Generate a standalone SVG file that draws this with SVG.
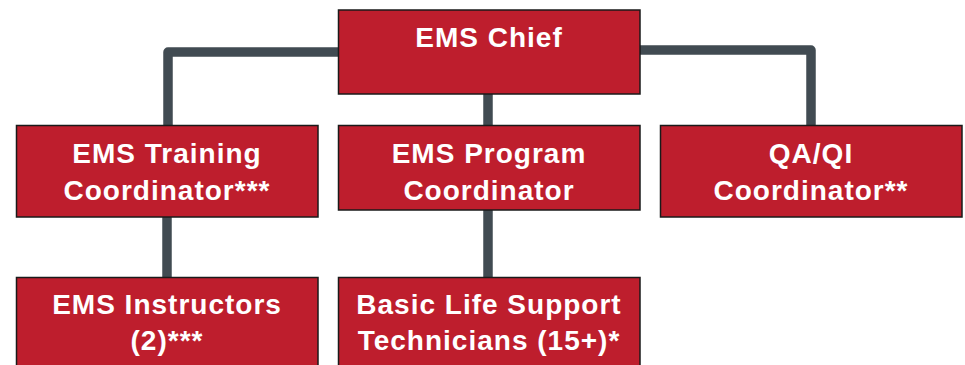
<svg xmlns="http://www.w3.org/2000/svg" width="965" height="365" viewBox="0 0 965 365">
<style>
.box{fill:#BE1E2D;stroke:#1a1a1a;stroke-width:1.5}
.lbl{font-family:"Liberation Sans",Arial,sans-serif;font-weight:bold;font-size:28px;fill:#ffffff;text-anchor:middle;letter-spacing:1px}
.conn{fill:none;stroke:#414B52;stroke-width:9.5;stroke-linejoin:round}
</style>
<rect width="965" height="365" fill="#ffffff"/>
<g id="connectors">
<path class="conn" d="M168,125 V52 H338"/>
<path class="conn" d="M640,50 H811 V125"/>
<path class="conn" d="M488,94 V125"/>
<path class="conn" d="M167,217 V277"/>
<path class="conn" d="M488,210 V277"/>
</g>
<g id="ems-chief">
<rect class="box" x="338.5" y="10" width="301.5" height="84"/>
<text class="lbl" x="489" y="47">EMS Chief</text>
</g>
<g id="training-coordinator">
<rect class="box" x="16.5" y="125.5" width="301.5" height="91.5"/>
<text class="lbl" x="167" y="163">EMS Training</text>
<text class="lbl" x="167" y="200">Coordinator***</text>
</g>
<g id="program-coordinator">
<rect class="box" x="338.5" y="125.5" width="301.5" height="84.5"/>
<text class="lbl" x="489" y="163">EMS Program</text>
<text class="lbl" x="489" y="200">Coordinator</text>
</g>
<g id="qa-qi-coordinator">
<rect class="box" x="660.5" y="125.5" width="301.5" height="91.5"/>
<text class="lbl" x="811" y="163">QA/QI</text>
<text class="lbl" x="811" y="200">Coordinator**</text>
</g>
<g id="ems-instructors">
<rect class="box" x="16.5" y="277.5" width="301.5" height="95"/>
<text class="lbl" x="167" y="314">EMS Instructors</text>
<text class="lbl" x="167" y="350">(2)***</text>
</g>
<g id="bls-technicians">
<rect class="box" x="338.5" y="277.5" width="301.5" height="95"/>
<text class="lbl" x="489" y="314">Basic Life Support</text>
<text class="lbl" x="489" y="350">Technicians (15+)*</text>
</g>
</svg>
